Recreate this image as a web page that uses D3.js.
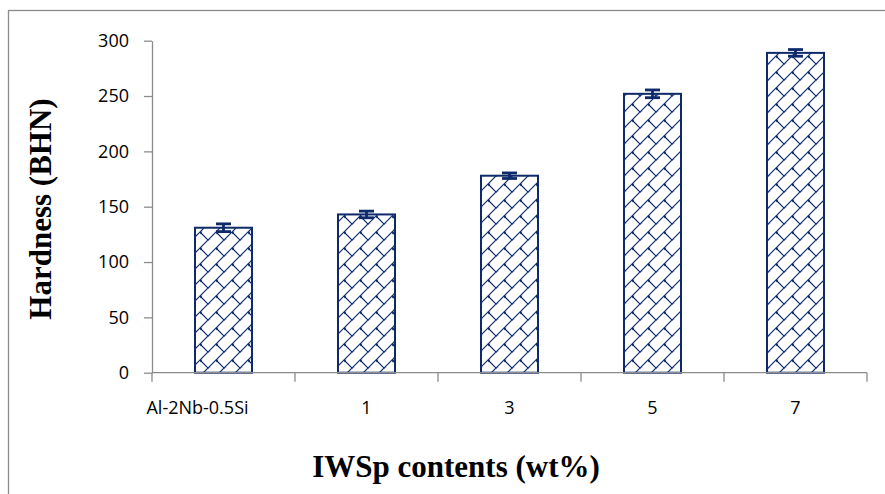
<!DOCTYPE html>
<html>
<head>
<meta charset="utf-8">
<script src="https://cdn.jsdelivr.net/npm/d3@7"></script>
<style>
  html, body { margin: 0; padding: 0; background: #fff; }
  svg { display: block; }
</style>
</head>
<body>
<script>
// Brinell hardness of the base alloy and the IWSp-reinforced composites
const categories = ["Al-2Nb-0.5Si", "1", "3", "5", "7"];
const hardness   = [131, 143, 178, 252, 289];
const hardnessErr = [3.5, 3, 2.5, 3.5, 3];
const yTicks = [0, 50, 100, 150, 200, 250, 300];

const W = 885, H = 494;
const margin = { left: 152, right: 18, top: 40.7, bottom: 121.3 };
const navy = "#0e2a6b";
const axisGrey = "#8c8c8c";
const tickFont = "'Open Sans', sans-serif";

const svg = d3.select("body").append("svg")
  .attr("width", W).attr("height", H);

// Shingle-style diagonal brick fill
const defs = svg.append("defs");
const pat = defs.append("pattern")
  .attr("id", "brick")
  .attr("patternUnits", "userSpaceOnUse")
  .attr("width", 16).attr("height", 16);
pat.append("rect").attr("width", 16).attr("height", 16).attr("fill", "#fff");
const pg = pat.append("g").attr("stroke", navy).attr("stroke-width", 1.2).attr("fill", "none");
pg.append("path").attr("d", "M-2,18 L18,-2 M-2,2 L2,-2 M14,18 L18,14");
pg.append("path").attr("d", "M8,8 L16,16 M0,0 L0.5,0.5");
pat.append("path").attr("d", "M8,8 L10.5,7.5 L8.5,10.5 Z").attr("fill", navy);
pat.append("path").attr("d", "M0,16 L2.5,15.5 L0.5,18.5 Z M16,0 L18.5,-0.5 L16.5,2.5 Z").attr("fill", navy);

// outer chart frame
svg.append("rect")
  .attr("x", 8.5).attr("y", 10.5)
  .attr("width", 890).attr("height", 500)
  .attr("fill", "none").attr("stroke", axisGrey).attr("stroke-width", 1.3);

const xOuter = d3.scaleBand()
  .domain(categories)
  .range([margin.left, W - margin.right]);

const y = d3.scaleLinear()
  .domain([0, 300])
  .range([H - margin.bottom, margin.top]);

// bars
svg.append("g").selectAll("rect")
  .data(categories)
  .join("rect")
  .attr("x", d => xOuter(d) + xOuter.bandwidth() / 2 - 28.5)
  .attr("width", 57)
  .attr("y", (d, i) => y(hardness[i]))
  .attr("height", (d, i) => y(0) - y(hardness[i]))
  .attr("fill", "url(#brick)")
  .attr("stroke", navy)
  .attr("stroke-width", 2);

// error bars
const eb = svg.append("g").attr("stroke", navy).attr("stroke-width", 2.8);
categories.forEach((c, i) => {
  const cx = xOuter(c) + xOuter.bandwidth() / 2;
  const hi = y(hardness[i] + hardnessErr[i]);
  const lo = y(hardness[i] - hardnessErr[i]);
  eb.append("line").attr("x1", cx).attr("x2", cx).attr("y1", hi).attr("y2", lo);
  eb.append("line").attr("x1", cx - 7.5).attr("x2", cx + 7.5).attr("y1", hi).attr("y2", hi);
  eb.append("line").attr("x1", cx - 7.5).attr("x2", cx + 7.5).attr("y1", lo).attr("y2", lo);
});

// y axis
const yAxis = svg.append("g")
  .attr("transform", `translate(${margin.left},0)`)
  .call(d3.axisLeft(y).tickValues(yTicks).tickSize(8).tickPadding(15).tickSizeOuter(0));
yAxis.select(".domain").attr("stroke", axisGrey).attr("stroke-width", 1.3);
yAxis.selectAll(".tick line").attr("stroke", axisGrey).attr("stroke-width", 1.3);
yAxis.selectAll(".tick text")
  .attr("fill", "#000")
  .style("font-family", tickFont)
  .style("font-size", "18px");

// x axis: ticks at category boundaries
const xBase = y(0);
const xg = svg.append("g");
xg.append("line")
  .attr("x1", margin.left).attr("x2", W - margin.right)
  .attr("y1", xBase).attr("y2", xBase)
  .attr("stroke", axisGrey).attr("stroke-width", 1.3);
const bounds = categories.map(c => xOuter(c)).concat([W - margin.right]);
xg.selectAll("line.tk")
  .data(bounds)
  .join("line")
  .attr("class", "tk")
  .attr("x1", d => d).attr("x2", d => d)
  .attr("y1", xBase).attr("y2", xBase + 9)
  .attr("stroke", axisGrey).attr("stroke-width", 1.3);
xg.selectAll("text")
  .data(categories)
  .join("text")
  .attr("x", (d, i) => xOuter(d) + xOuter.bandwidth() / 2 - (i === 0 ? 26 : 0))
  .attr("y", xBase + 41)
  .attr("text-anchor", "middle")
  .style("font-family", tickFont)
  .style("font-size", "18px")
  .text(d => d);

// axis titles
svg.append("text")
  .attr("x", 456).attr("y", 477)
  .attr("text-anchor", "middle")
  .style("font-family", "'Liberation Serif', 'Times New Roman', serif")
  .style("font-weight", "bold")
  .style("font-size", "31px")
  .text("IWSp contents (wt%)");

svg.append("text")
  .attr("transform", `translate(51,209) rotate(-90)`)
  .attr("text-anchor", "middle")
  .style("font-family", "'Liberation Serif', 'Times New Roman', serif")
  .style("font-weight", "bold")
  .style("font-size", "31px")
  .text("Hardness (BHN)");
</script>
</body>
</html>
